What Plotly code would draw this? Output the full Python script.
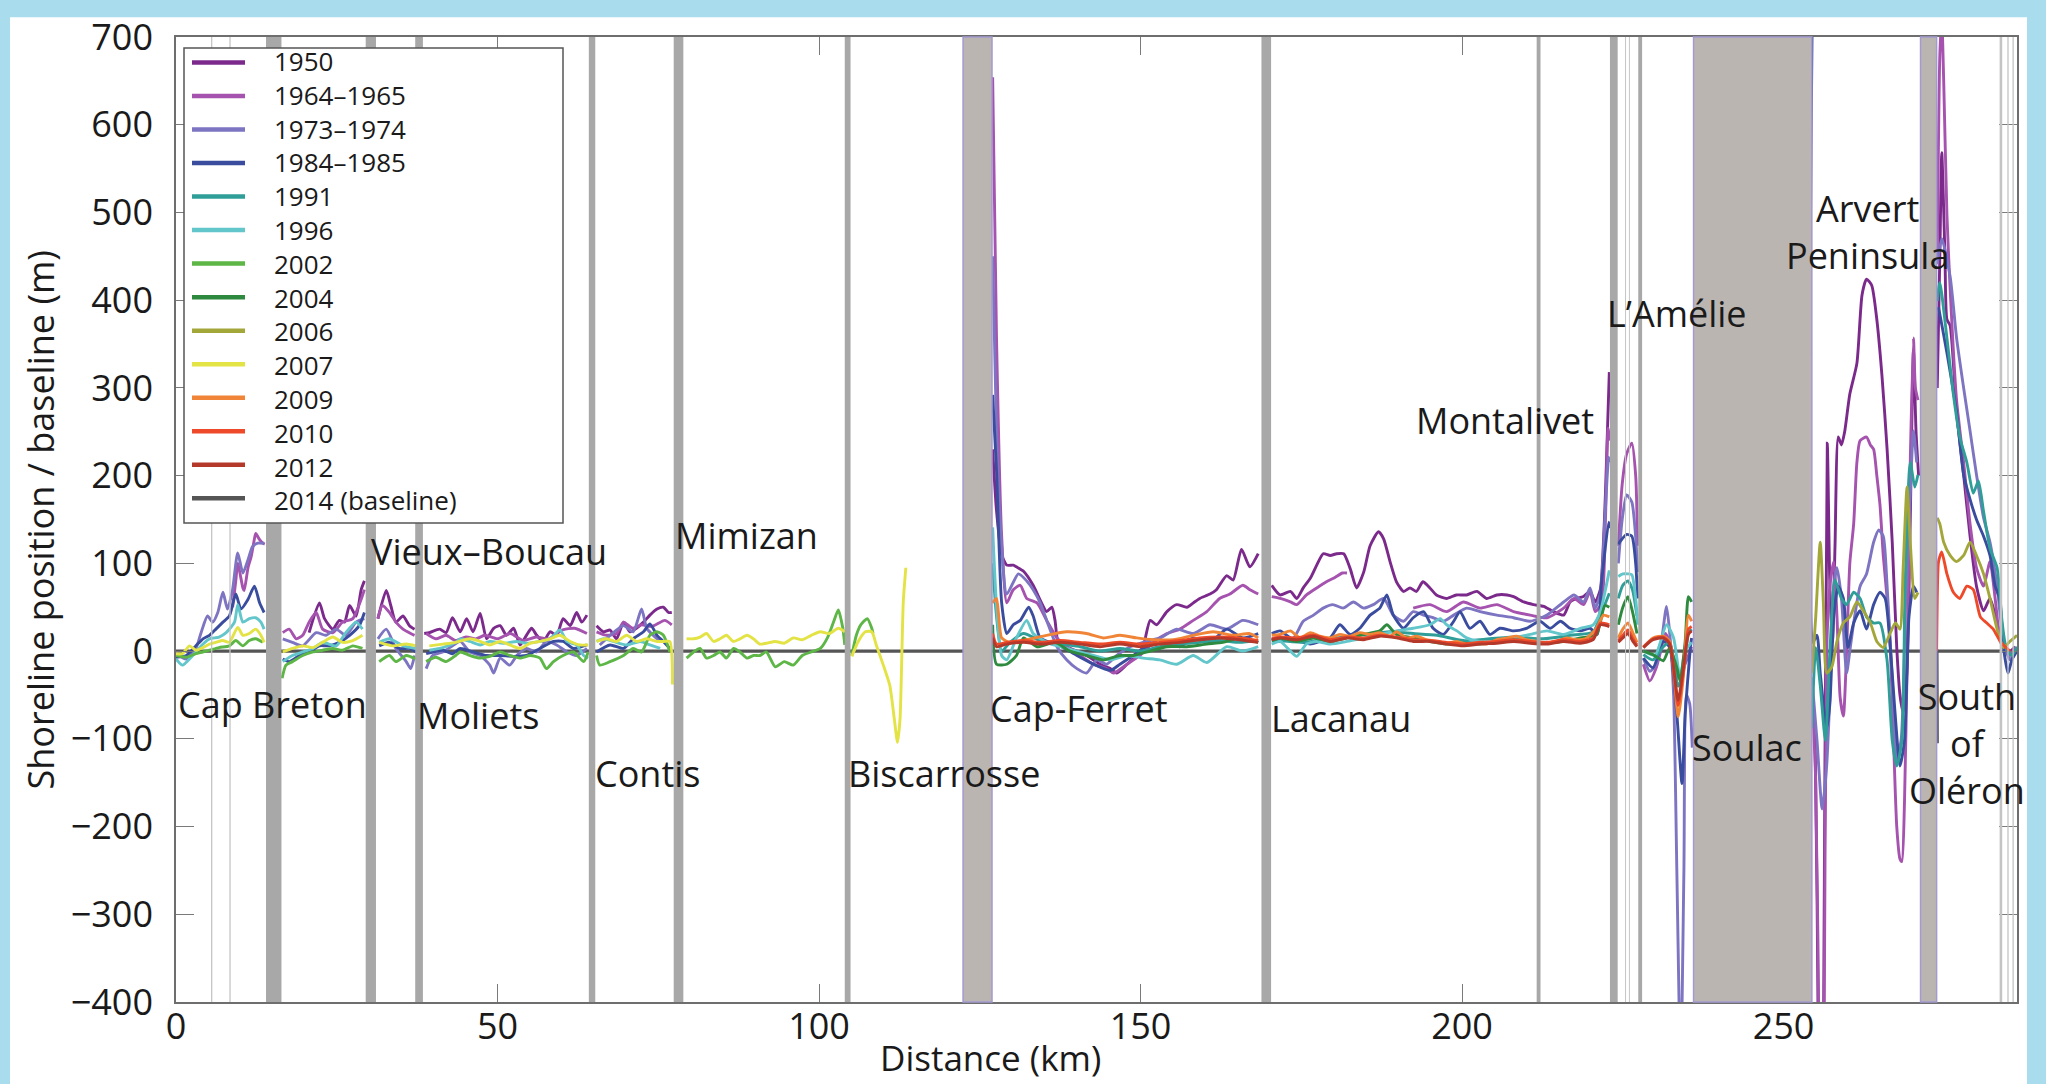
import plotly.graph_objects as go

# ---------------- data (km along coast, shoreline offset in m) ----------------
NAMES = ["1950", "1964–1965", "1973–1974", "1984–1985", "1991", "1996", "2002",
         "2004", "2006", "2007", "2009", "2010", "2012", "2014 (baseline)"]
COLORS = ["#7b2a8c", "#a553ae", "#7d74c2", "#3a4c9e", "#2f9e98", "#62c6ca", "#5db646",
          "#2e8a3e", "#a3a73a", "#e3e345", "#f08538", "#ee4a2a", "#b5392a", "#555555"]

G = None  # gap marker

D1950 = [(20.7,21),(22.3,55),(23.1,37),(24.4,25),(25.4,35),(26.2,33),(27.0,52),(28.0,40),(28.8,70),(29.3,80),G,
         (31.4,37),(32.7,69),(33.4,52),(34.2,33),(35.3,40),(36.3,29),(37.1,25),G,
         (38.6,20),(39.4,21),(41.0,25),(42.0,21),(43.0,38),(44.2,22),(45.2,37),(46.2,22),(47.3,43),(48.3,14),(49.4,26),
         (50.4,29),(51.4,18),(52.5,26),(53.5,7),(54.5,18),(55.3,26),(56.1,18),(57.1,11),(58.2,22),(59.2,18),(60.2,37),
         (61.3,29),(62.3,44),(63.1,33),(63.9,41),G,
         (65.4,29),(66.5,22),(67.5,24),(68.5,14),(69.6,33),(70.6,22),(71.6,26),(72.7,33),(73.7,41),(74.8,48),(75.8,50),
         (76.6,44),(77.1,44),G,
         (127.0,230),(127.6,160),(128.4,110),(129.2,98),(130.2,98),(130.7,96),(131.8,91),(133.3,75),(134.6,55),(135.4,45),
         (136.2,50),(136.7,35),(137.2,10),(138.5,5),(140.1,0),(141.6,-5),(143.7,-15),(145.3,-20),(146.3,-25),(147.9,-15),
         (149.4,-5),(150.4,5),(151.5,35),(152.5,30),(154.1,45),(155.6,53),(157.2,50),(158.2,55),(159.2,60),(160.8,65),
         (161.8,70),(163.4,86),(164.4,81),(165.7,116),(167.0,96),(168.3,111),G,
         (170.4,75),(171.7,64),(173.3,68),(174.3,60),(175.3,72),(176.4,83),(177.4,98),(178.4,111),(179.5,109),(180.5,111),
         (181.6,111),(182.6,94),(183.6,72),(184.7,90),(185.7,120),(187.0,136),(187.8,128),(188.8,102),(189.8,79),(190.9,68),
         (191.9,72),(192.9,68),(193.9,79),(195.0,72),(196.0,64),(197.6,60),(199.1,64),(200.7,64),(202.3,68),(203.8,60),
         (205.4,64),(207.0,64),(208.0,62),(209.6,56),(211.1,53),(212.7,51),(214.2,45),(215.8,41),(216.8,56),(217.8,60),
         (218.8,62),(219.9,68),(220.7,56),(221.5,70),(221.9,110),(222.3,180),(222.9,318),G,
         (254.5,-50),(254.9,-100),(255.4,-450),(255.8,-900),(256.2,-450),(256.8,237),(257.2,74),(257.6,10),(258.0,120),
         (258.5,244),(259.0,235),(259.5,250),(260.3,293),(261.4,328),(262.2,406),(262.9,424),(263.7,417),(264.5,378),
         (265.3,314),(266.1,230),(266.9,124),(267.6,4),(268.1,-50),(268.6,-70),(269.2,-20),(269.7,150),(270.2,343),
         (270.6,250),(271.0,200),G,
         (273.9,300),(274.3,450),(274.6,568),(275.1,450),(275.4,378),(275.9,371),(276.9,272),(278.0,201),(279.0,131),
         (280.0,74),(281.1,46),(282.1,60),(283.2,32),(284.2,4),(285.2,0),(286.0,5)]

D1964 = [(8.8,50),(9.3,80),(9.6,100),(10.4,72),(10.6,69),(11.2,95),(11.7,108),(12.2,128),(12.4,134),(13.0,127),
         (13.5,123),(13.8,122),G,
         (16.6,21),(17.6,25),(18.7,14),(19.7,18),(20.7,33),(21.8,44),(22.8,25),(24.4,21),(25.9,33),(27.5,37),(28.8,59),
         (29.3,70),G,
         (31.4,37),(32.1,52),(33.2,44),(34.2,33),(35.3,25),(36.5,20),(37.1,18),G,
         (38.9,20),(40.4,14),(42.0,18),(43.5,12),(45.1,16),(46.7,14),(48.0,18),(50.0,14),(52.0,20),(54.0,12),(56.0,16),
         (58.0,14),(60.0,24),(62.0,26),(63.9,20),G,
         (65.4,22),(67.0,18),(68.5,20),(69.6,33),(71.0,26),(72.4,30),(74.0,28),(76.0,35),(77.1,30),G,
         (127.0,654),(127.6,357),(128.4,131),(129.2,55),(130.2,70),(131.3,75),(132.3,60),(133.9,55),(135.4,35),(137.0,15),
         (138.5,5),(140.6,-5),(142.7,-15),(144.7,-20),(145.8,-25),(147.9,-15),(149.9,-5),(152.0,10),(154.1,20),(156.1,25),
         (158.2,35),(160.3,45),(162.3,60),(163.9,65),(165.9,75),(167.0,70),(168.3,65),G,
         (170.4,62),(171.7,60),(173.3,56),(174.3,53),(175.8,64),(177.4,72),(178.9,79),(180.0,83),(181.4,89),(182.1,89),G,
         (192.4,49),(195.0,53),(197.6,45),(200.2,56),(202.8,49),(205.4,53),(208.0,45),(210.6,41),(213.2,38),(215.8,49),
         (217.4,60),(218.9,53),(219.9,68),(220.7,45),(221.7,55),(222.3,150),(222.7,254),(222.95,240),G,
         (224.3,120),(224.9,190),(225.6,225),(226.4,237),(227.0,200),(227.3,120),G,
         (228.2,-15),(229.2,-34),(230.2,-19),(230.9,0),(231.6,20),(232.3,10),(232.9,-10),(233.6,-30),(234.4,-20),
         (235.2,-5),(235.7,5),G,
         (254.5,-60),(255.0,-150),(255.6,-500),(255.9,-700),(256.3,-450),(256.7,0),(257.2,74),(257.8,102),(258.3,40),
         (258.8,-53),(259.3,-74),(259.8,0),(260.3,100),(260.9,145),(261.4,215),(261.9,240),(262.9,244),(263.5,235),
         (264.0,230),(264.5,200),(265.0,166),(265.5,109),(266.1,60),(266.6,4),(267.1,-102),(267.6,-200),(268.1,-237),
         (268.4,-240),(268.8,-173),(269.2,-20),(269.7,215),(270.2,357),(270.5,300),(270.9,286),G,
         (273.9,450),(274.3,680),(274.6,720),(274.9,650),(275.4,498),(275.9,413),(276.9,286),(278.0,215),(279.0,145),
         (280.0,95),(281.1,74),(282.1,102),(282.9,60),(283.7,11),(284.2,4),(285.2,-5),(286.0,5)]

D1973 = [(0,-3),(1.6,-9),(3.1,3),(3.9,21),(4.9,40),(5.7,33),(6.5,44),(7.3,67),(8.0,48),(8.8,70),(9.6,112),(10.4,89),
         (11.2,104),(11.9,119),(12.7,123),(13.7,123),G,
         (16.6,14),(18.1,10),(19.7,6),(21.8,21),(23.3,18),(24.9,25),(26.4,18),(28.0,33),(29.3,37),G,
         (31.4,14),(32.7,25),(34.2,3),(35.8,-12),(36.5,-20),(37.1,-5),G,
         (38.9,-20),(39.9,-5),(41.5,-1),(43.0,6),(44.2,11),(45.7,-1),(47.3,-5),(48.8,-16),(49.4,-25),(50.4,-8),(51.9,-16),
         (53.0,-5),(54.5,3),(56.1,-1),(57.6,11),(59.2,7),(60.8,-1),(62.3,-5),(63.9,3),G,
         (65.9,7),(67.5,18),(69.6,29),(71.1,22),(72.4,48),(73.2,26),(74.2,18),(75.3,11),G,
         (127.0,450),(127.6,250),(128.4,120),(129.2,65),(131.0,88),(132.3,80),(133.3,70),(134.4,55),(135.4,35),(137.0,5),
         (138.5,-10),(140.1,-20),(141.6,-25),(143.2,-10),(144.7,-15),(146.3,-5),(148.4,5),(150.4,10),(153.0,15),
         (155.6,25),(158.2,20),(160.8,30),(163.4,25),(165.9,35),(168.3,30),G,
         (170.4,15),(171.7,11),(173.8,15),(175.3,34),(176.9,41),(178.4,49),(179.9,53),(181.5,49),(183.1,56),(184.7,49),
         (186.2,53),(187.8,60),(189.3,41),(190.9,34),(192.4,45),(194.0,41),(195.5,38),(197.1,34),(198.7,41),(200.7,49),
         (202.8,45),(205.4,41),(208.0,38),(210.6,34),(213.2,41),(215.8,56),(217.4,64),(218.9,56),(219.9,72),(220.7,49),
         (221.5,65),(222.2,150),(222.8,221),(222.95,215),G,
         (224.3,100),(224.9,150),(225.6,178),(226.4,170),(227.0,130),(227.3,90),G,
         (228.2,-8),(229.2,-23),(230.2,-15),(230.9,5),(231.8,51),(232.3,20),(232.9,-50),(233.4,-250),(234.0,-480),
         (234.5,-250),(234.9,-50),(235.4,-60),(235.8,-110),G,
         (254.4,-30),(255.2,-102),(256.0,-180),(256.7,-131),(257.2,-50),(257.8,74),(258.3,95),(259.0,60),(259.8,-25),
         (260.3,0),(260.9,32),(261.9,74),(262.9,88),(264.0,124),(264.8,138),(265.5,131),(266.1,74),(266.9,-32),
         (267.6,-124),(268.3,-100),(269.0,60),(269.7,180),(270.2,251),(270.7,215),G,
         (273.9,441),(274.6,470),(275.9,427),(276.9,357),(278.0,300),(279.0,251),(280.0,201),(281.1,152),(282.1,124),
         (283.2,74),(284.2,11),(285.2,-10),(286.0,0)]

D1984 = [(0,-7),(1.6,-5),(3.1,6),(4.2,14),(5.2,18),(6.2,25),(7.3,33),(8.3,40),(9.3,65),(10.1,48),(11.2,59),(12.2,74),
         (13.0,55),(13.7,44),G,
         (16.6,-9),(17.6,-12),(19.2,-5),(20.7,-1),(22.3,6),(23.8,6),(25.4,10),(27.0,18),(28.5,29),(29.3,44),G,
         (31.6,6),(33.2,10),(34.7,3),(36.3,3),(37.3,-1),G,
         (38.9,-3),(41.5,1),(43.0,-3),(44.2,3),(46.2,-1),(48.3,-5),(50.4,-5),(52.5,-6),(54.5,-5),(56.6,3),(58.7,11),
         (60.2,11),(61.8,3),(63.9,7),G,
         (65.4,-1),(67.5,7),(69.6,3),(71.1,14),(72.7,22),(73.7,31),(74.8,18),(75.8,11),(76.8,3),G,
         (127.0,292),(127.6,206),(128.4,55),(129.2,20),(130.2,30),(131.3,35),(132.6,50),(133.3,40),(134.4,15),(135.9,10),
         (137.7,5),(140.1,-5),(142.7,-15),(145.3,-22),(146.8,-15),(148.9,-5),(150.9,5),(154.1,10),(156.1,5),(158.2,15),
         (160.8,10),(163.4,25),(165.9,15),(168.3,20),G,
         (170.4,20),(171.7,23),(173.3,15),(174.8,11),(176.4,8),(177.9,11),(179.5,15),(181.0,30),(182.6,19),(184.1,26),
         (185.7,41),(187.2,49),(188.3,64),(189.3,41),(190.9,26),(192.4,38),(194.0,45),(195.5,26),(197.1,19),(198.7,34),
         (199.7,45),(201.2,26),(202.8,34),(204.3,19),(205.9,26),(208.0,23),(210.0,26),(212.1,34),(213.7,26),(215.3,34),
         (216.8,26),(218.4,23),(219.9,26),(221.0,19),(221.7,79),(222.8,147),(222.95,140),G,
         (224.3,122),(224.9,128),(225.6,133),(226.4,131),(227.0,100),(227.3,60),G,
         (228.2,-8),(229.7,-19),(231.3,11),(232.3,4),(233.4,-72),(234.2,-151),(234.7,-72),(235.5,4),(235.7,15),G,
         (254.45,720),(254.55,10),(255.2,18),(255.7,-25),(256.7,-88),(257.2,-60),(257.8,39),(258.5,74),(259.3,60),
         (260.0,4),(260.9,32),(261.9,46),(262.9,25),(264.0,53),(265.0,67),(265.8,60),(266.6,4),(267.3,-67),(268.1,-131),
         (268.8,-102),(269.5,39),(270.2,74),(270.7,67),G,
         (274.1,392),(275.4,340),(276.9,272),(278.0,201),(279.0,173),(280.0,150),(281.1,131),(282.1,109),(282.9,74),
         (283.6,60),(284.2,4),(284.9,-25),(285.5,-10),(286.3,0)]

D1991 = [(127.0,100),(127.6,40),(128.4,0),(129.7,10),(131.8,20),(134.4,12),(137.5,8),(140.6,5),(143.7,0),(146.8,3),
         (149.9,0),(153.0,5),(156.1,8),(159.2,10),(162.3,12),(165.4,10),(168.3,12),G,
         (170.4,12),(171.7,12),(175.3,10),(179.5,14),(184.1,18),(188.8,22),(192.4,20),(196.1,18),(200.2,12),(204.3,14),
         (208.5,16),(212.6,14),(216.8,18),(220.4,22),(221.5,40),(222.9,66),G,
         (224.3,60),(225.0,75),(225.8,80),(226.5,70),(227.2,40),G,
         (228.2,-4),(229.7,-10),(231.3,5),(232.3,10),(233.6,-40),(234.4,-25),(235.2,20),(235.7,25),G,
         (254.4,-88),(255.0,4),(255.7,-39),(256.5,-102),(257.2,0),(258.0,81),(259.0,60),(259.8,53),(260.9,67),(261.9,60),
         (262.9,39),(264.0,32),(265.0,32),(266.1,-11),(266.9,-102),(267.6,-131),(268.4,-102),(268.9,74),(269.7,215),
         (270.4,187),(270.9,201),G,
         (273.9,399),(274.3,420),(275.4,357),(276.4,293),(277.4,244),(278.5,215),(279.5,180),(280.3,194),(281.1,159),
         (282.1,117),(283.2,95),(284.0,32),(284.6,4),(285.5,-5),(286.3,5)]

D1996 = [(0,-9),(1.0,-16),(2.6,-5),(4.2,8),(5.2,14),(6.7,16),(7.8,21),(9.1,33),(9.6,53),(10.4,33),(11.4,37),(12.4,38),
         (13.2,33),(13.7,25),G,
         (16.6,-12),(18.1,-5),(19.7,-1),(21.3,3),(22.8,10),(24.9,6),(26.4,21),(28.0,33),(29.0,25),G,
         (31.6,10),(33.2,14),(35.3,6),(37.3,3),G,
         (39.4,1),(41.5,4),(43.5,10),(44.2,14),(45.7,11),(47.3,7),(48.8,11),(50.9,9),(53.0,11),(54.5,9),(56.6,11),
         (58.2,14),(59.7,24),(60.8,11),(62.3,7),(63.4,-5),(64.1,-8),G,
         (65.4,11),(66.5,14),(68.0,11),(70.1,7),(72.2,11),(73.7,7),(75.3,3),G,
         (127.0,141),(128.4,-5),(129.2,-10),(130.7,15),(132.3,35),(133.3,20),(135.4,10),(137.5,5),(140.1,0),(142.7,-5),
         (145.3,-10),(147.9,-5),(150.4,-8),(153.0,-10),(155.6,-15),(158.2,-5),(160.3,-13),(163.4,5),(165.9,0),(168.3,5),G,
         (170.4,8),(171.7,11),(173.3,0),(174.3,-6),(175.8,8),(177.4,11),(179.5,8),(182.1,11),(184.7,15),(187.2,19),
         (189.8,23),(192.4,26),(195.0,30),(196.6,37),(197.6,30),(199.2,23),(200.7,15),(202.8,11),(205.4,11),(208.0,15),
         (210.6,19),(213.2,23),(215.8,19),(218.4,26),(220.4,30),(221.5,45),(222.3,70),(222.9,92),G,
         (224.3,85),(225.0,88),(225.8,88),(226.4,87),(227.0,60),(227.3,30),G,
         (228.2,0),(230.0,-5),(231.8,30),(232.9,15),(233.9,-30),(234.7,0),(235.7,10)]

D2002 = [(0,-5),(1.6,-7),(3.1,-3),(5.2,1),(6.7,4),(8.3,6),(9.3,12),(10.4,6),(11.4,12),(12.4,14),(13.5,10),G,
         (16.5,-31),(17.1,-16),(18.1,-12),(19.7,-5),(21.3,-1),(22.8,1),(24.4,3),(25.9,1),(27.5,6),(29.0,3),G,
         (31.6,-12),(33.2,-5),(34.2,-12),(35.8,-5),(37.3,-9),G,
         (38.9,-12),(40.4,-7),(42.0,-12),(43.5,-5),(44.2,-1),(45.7,-5),(47.3,-8),(48.8,-6),(50.4,-1),(51.9,-5),(53.5,-8),
         (55.1,-5),(56.6,-8),(57.6,-20),(58.7,-12),(60.2,-5),(61.8,-1),(63.4,-12),(64.1,-1),G,
         (65.4,-5),(65.9,-16),(67.5,-12),(69.6,-5),(71.1,3),(72.4,-1),(73.7,18),(74.8,22),(75.8,18),(76.8,-1),G,
         (79.4,-8),(80.5,-1),(81.5,3),(82.5,-8),(83.6,-5),(84.6,-1),(85.6,-8),(86.7,3),(87.7,-1),(88.8,-8),(89.8,-5),
         (90.8,-5),(91.8,-1),(93.2,-18),(94.6,-12),(96.0,-16),(97.4,-5),(98.8,-1),(100.2,3),(101.3,15),(102.3,34),
         (103.0,47),(103.7,26),(104.0,7),G,
         (105.1,-5),(105.8,18),(106.5,30),(107.5,37),(108.2,26),(108.4,20)]

D2004 = [(127.0,30),(127.6,-15),(129.2,-15),(130.7,-5),(131.8,15),(133.9,5),(136.7,10),(139.0,0),(141.6,-5),(144.2,-10),
         (146.8,-5),(148.9,-5),(151.5,0),(154.1,5),(157.2,5),(160.3,8),(162.8,10),(165.4,15),(168.3,10),G,
         (170.4,12),(171.7,15),(174.3,11),(176.9,15),(179.5,11),(182.1,15),(184.7,19),(187.2,23),(188.3,30),(189.8,19),
         (192.4,15),(195.0,11),(197.6,8),(200.2,9),(202.8,8),(205.4,11),(208.0,13),(210.6,11),(213.2,9),(215.8,11),
         (218.4,15),(220.9,19),(222.2,52),(222.9,50),G,
         (224.3,30),(225.0,50),(225.8,62),(226.5,45),(227.2,20),G,
         (228.2,0),(229.7,-4),(231.3,-11),(232.3,4),(233.4,-19),(233.9,-34),(234.7,11),(235.2,62),(235.7,56)]

D2006 = [(254.4,-25),(255.0,39),(255.7,124),(256.2,53),(256.7,-25),(257.5,-18),(258.3,11),(259.3,32),(260.3,39),
         (261.4,56),(262.4,46),(263.5,32),(264.5,11),(265.5,4),(266.6,21),(267.4,32),(268.1,25),(268.6,95),(269.2,187),
         (269.7,124),(270.4,60),(270.9,67),G,
         (273.9,152),(274.3,145),(274.9,124),(275.9,109),(276.9,102),(278.0,109),(279.0,124),(280.0,109),(281.1,88),
         (282.1,60),(283.2,25),(284.2,4),(285.2,11),(286.3,18)]

D2007 = [(0,-3),(1.0,-3),(2.1,6),(3.1,1),(4.2,4),(5.2,8),(6.2,10),(7.3,12),(8.3,10),(9.6,27),(10.4,18),(11.4,20),
         (12.4,25),(13.2,18),(13.7,10),G,
         (16.6,-1),(18.1,3),(19.7,6),(21.3,4),(22.8,10),(24.4,16),(25.9,10),(27.5,12),(29.0,18),G,
         (31.6,10),(33.7,6),(35.8,8),(37.3,6),G,
         (39.4,6),(41.5,8),(43.5,10),(45.7,14),(47.3,11),(48.8,7),(50.4,11),(51.9,7),(53.5,3),(55.1,9),(56.6,11),
         (58.2,14),(59.7,18),(61.3,11),(62.8,7),(64.1,7),G,
         (65.4,11),(66.9,14),(68.5,11),(70.1,18),(71.6,11),(73.2,14),(74.8,11),(75.8,11),(76.8,11),(77.2,-38),G,
         (79.4,14),(80.5,14),(81.5,16),(82.5,20),(83.6,11),(84.6,14),(85.6,18),(86.7,11),(87.7,14),(88.8,18),(89.8,14),
         (90.8,8),(91.8,9),(93.2,11),(94.6,9),(96.0,15),(97.4,13),(98.8,18),(100.2,22),(101.6,20),(103.0,26),(104.0,22),G,
         (105.1,-6),(106.1,11),(107.2,22),(108.2,22),(108.9,7),(110.0,-16),(111.0,-39),(111.7,-77),(112.2,-104),
         (112.6,-77),(113.1,56),(113.5,95)]

D2009 = [(127.0,55),(127.6,60),(128.4,15),(129.7,10),(132.3,13),(135.4,18),(138.5,22),(141.6,20),(144.2,15),(146.8,18),
         (149.4,15),(152.0,13),(155.1,13),(158.2,18),(161.3,22),(164.4,18),(167.0,20),(168.3,15),G,
         (170.4,18),(171.7,19),(173.3,23),(174.8,15),(176.4,21),(177.9,17),(179.5,15),(181.0,19),(182.6,17),(184.1,21),
         (185.7,19),(187.2,21),(188.8,17),(189.8,22),(191.4,15),(192.9,17),(194.5,13),(196.1,11),(197.6,9),(199.2,11),
         (200.7,8),(202.3,9),(203.8,8),(205.4,13),(207.0,15),(208.5,17),(210.0,13),(211.6,11),(213.2,9),(214.7,11),
         (216.3,15),(217.8,13),(219.4,15),(220.9,26),(222.0,41),(222.9,39),G,
         (224.3,15),(225.0,25),(225.8,32),(226.5,22),(227.2,10),G,
         (228.2,4),(229.7,15),(231.3,17),(232.3,11),(233.6,-75),(234.4,-30),(235.2,41),(235.7,34)]

D2010 = [(127.0,20),(127.6,8),(129.2,10),(131.8,12),(134.4,10),(137.5,12),(140.6,10),(143.7,8),(146.8,10),(149.9,8),
         (153.0,10),(156.1,12),(159.2,15),(162.3,16),(165.4,15),(168.3,12),G,
         (170.4,14),(171.7,16),(174.3,15),(176.9,18),(179.5,13),(182.1,16),(184.7,15),(187.2,18),(189.8,16),(192.4,13),
         (195.0,12),(197.6,10),(200.2,8),(202.8,10),(205.4,11),(208.0,13),(210.6,11),(213.2,10),(215.8,13),(218.4,11),
         (220.4,15),(221.5,32),(222.9,30),G,
         (224.3,12),(225.0,18),(225.8,24),(226.5,15),(227.2,7),G,
         (228.2,5),(229.7,14),(231.3,16),(232.3,9),(233.6,-62),(234.4,-25),(235.2,25),(235.7,28),G,
         (273.8,0),(273.9,60),(274.1,102),(274.6,113),(275.4,88),(276.4,67),(277.4,60),(278.5,74),(279.5,70),(280.6,39),
         (281.6,32),(282.6,25),(283.7,11),(284.6,4),(285.2,0)]

D2012 = [(127.0,15),(127.6,5),(129.2,8),(131.8,10),(134.4,8),(137.5,10),(140.6,8),(143.7,5),(146.8,8),(149.9,5),
         (153.0,8),(156.1,10),(159.2,13),(162.3,15),(165.4,13),(168.3,10),G,
         (170.4,13),(171.7,15),(174.3,13),(176.9,17),(179.5,11),(182.1,15),(184.7,13),(187.2,17),(189.8,15),(192.4,11),
         (195.0,11),(197.6,8),(200.2,6),(202.8,8),(205.4,9),(208.0,11),(210.6,9),(213.2,8),(215.8,11),(218.4,9),
         (220.4,13),(221.5,30),(222.9,28),G,
         (224.3,10),(225.0,15),(225.8,20),(226.5,12),(227.2,5),G,
         (228.2,4),(229.7,13),(231.3,15),(232.3,8),(233.6,-56),(234.4,-20),(235.2,19),(235.7,23)]

D2014 = [(0,0),(273.85,0),(273.9,-105),G,(273.9,0),(286.3,0)]

SERIES = [D1950, D1964, D1973, D1984, D1991, D1996, D2002, D2004, D2006, D2007, D2009, D2010, D2012]

# masked stretches (km) and their kind
BANDS = [(5.45,5.65,"thin"),(8.3,8.5,"thin"),(14.0,16.4,"gray"),(29.5,31.1,"gray"),(37.2,38.4,"gray"),
         (64.2,65.2,"gray"),(77.4,78.9,"gray"),(104.0,104.9,"gray"),(122.4,126.9,"warm"),(168.8,170.3,"gray"),
         (211.6,212.2,"gray"),(223.0,224.2,"gray"),(225.35,225.5,"thin"),(225.95,226.1,"thin"),(227.4,228.0,"gray"),
         (236.0,254.4,"warm"),(271.3,273.8,"warm"),(283.6,284.0,"thin"),(284.8,285.0,"thin"),(285.6,285.8,"thin")]

PLACES = [("Cap Breton",0.0,-61,"left"),("Vieux–Boucau",30.0,113,"left"),("Moliets",37.2,-73,"left"),
          ("Contis",64.8,-139,"left"),("Mimizan",77.3,132,"left"),("Biscarrosse",104.2,-139,"left"),
          ("Cap-Ferret",126.3,-66,"left"),("Lacanau",169.9,-77,"left"),("Montalivet",192.5,263,"left"),
          ("L’Amélie",222.2,385,"left"),("Soulac",235.4,-110,"left"),("Arvert<br>Peninsula",263.1,478,"center"),
          ("South<br>of<br>Oléron",278.5,-105,"center")]

# ---------------- figure ----------------
FONT = "Open Sans"
W, H = 2046, 1084
L, R, T, B = 176, 29, 29, 82
PW, PH = W - L - R, H - T - B

def px_x(p):
    return (p - L) / PW

def px_y(p):
    return (H - B - p) / PH

def unzip(d):
    xs = [p[0] if p is not None else None for p in d]
    ys = [p[1] if p is not None else None for p in d]
    return xs, ys

fig = go.Figure()

bx, by = unzip(D2014)
fig.add_trace(go.Scatter(x=bx, y=by, mode="lines", line=dict(color=COLORS[13], width=3.2),
                         name=NAMES[13], showlegend=False, hoverinfo="skip"))
for d, name, col in zip(SERIES, NAMES[:13], COLORS[:13]):
    xs, ys = unzip(d)
    fig.add_trace(go.Scatter(x=xs, y=ys, mode="lines", name=name, showlegend=False,
                             line=dict(color=col, width=2.9, shape="spline", smoothing=0.6),
                             hoverinfo="skip"))

shapes = []
# light-blue page with a white sheet
shapes.append(dict(type="rect", xref="paper", yref="paper", layer="below",
                   x0=px_x(10), x1=px_x(2027), y0=px_y(1090), y1=px_y(9),
                   fillcolor="white", line=dict(width=0)))
band_fill = {"gray": "#a8a8a8", "warm": "#bbb5b1", "thin": "#c4c4c4"}
for x0, x1, kind in BANDS:
    ln = dict(width=1.5, color="#a49ad0") if kind == "warm" else dict(width=0)
    shapes.append(dict(type="rect", xref="x", yref="paper", x0=x0, x1=x1, y0=0, y1=1,
                       fillcolor=band_fill[kind], line=ln, layer="above"))

# legend box (drawn by hand so the rows can stay as tight as in the original)
LEG_FONT = 26
LEG_STEP = LEG_FONT * 1.3
LEG_MID = 274.4
shapes.append(dict(type="rect", xref="paper", yref="paper", layer="above",
                   x0=px_x(184), x1=px_x(563), y0=px_y(519), y1=px_y(40),
                   fillcolor="white", line=dict(color="#555555", width=1.5)))
annotations = []
n = len(NAMES)
for i, col in enumerate(COLORS):
    yc = px_y(LEG_MID + (i - (n - 1) / 2) * LEG_STEP)
    shapes.append(dict(type="line", xref="paper", yref="paper", layer="above",
                       x0=px_x(192), x1=px_x(245), y0=yc, y1=yc, line=dict(color=col, width=4.5)))
annotations.append(dict(text="<br>".join(NAMES), xref="paper", yref="paper", x=px_x(272), y=px_y(LEG_MID),
                        xanchor="left", yanchor="middle", align="left", showarrow=False,
                        font=dict(family=FONT, size=LEG_FONT, color="#1a1a1a")))

for text, x, y, anc in PLACES:
    annotations.append(dict(text=text, x=x, y=y, xref="x", yref="y", xanchor=anc, yanchor="middle",
                            align="center", showarrow=False,
                            font=dict(family=FONT, size=36, color="#1a1a1a")))

# axis titles
annotations.append(dict(text="Distance (km)", xref="paper", yref="paper", x=px_x(990), y=px_y(1058),
                        xanchor="center", yanchor="middle", showarrow=False,
                        font=dict(family=FONT, size=35, color="#1a1a1a")))
annotations.append(dict(text="Shoreline position / baseline (m)", xref="paper", yref="paper",
                        x=px_x(40), y=0.5, xanchor="center", yanchor="middle", textangle=-90,
                        showarrow=False, font=dict(family=FONT, size=36, color="#1a1a1a")))

axis_common = dict(showgrid=False, zeroline=False, showline=True, linecolor="#6e6e6e", linewidth=1.5,
                   mirror="ticks", ticks="inside", ticklen=18, tickwidth=1.2, tickcolor="#7a7a7a",
                   tickfont=dict(family=FONT, size=36, color="#1a1a1a"))

fig.update_layout(
    width=W, height=H, autosize=False,
    margin=dict(l=L, r=R, t=T, b=B, pad=0),
    paper_bgcolor="#a9dcec", plot_bgcolor="white",
    showlegend=False,
    xaxis=dict(range=[0, 286.3], tickvals=[0, 50, 100, 150, 200, 250], ticklabelstandoff=-8, **axis_common),
    yaxis=dict(range=[-400, 700], tickvals=list(range(-400, 701, 100)), ticklabelstandoff=14, **axis_common),
    shapes=shapes, annotations=annotations,
    font=dict(family=FONT),
)

fig.write_html("out.html")
